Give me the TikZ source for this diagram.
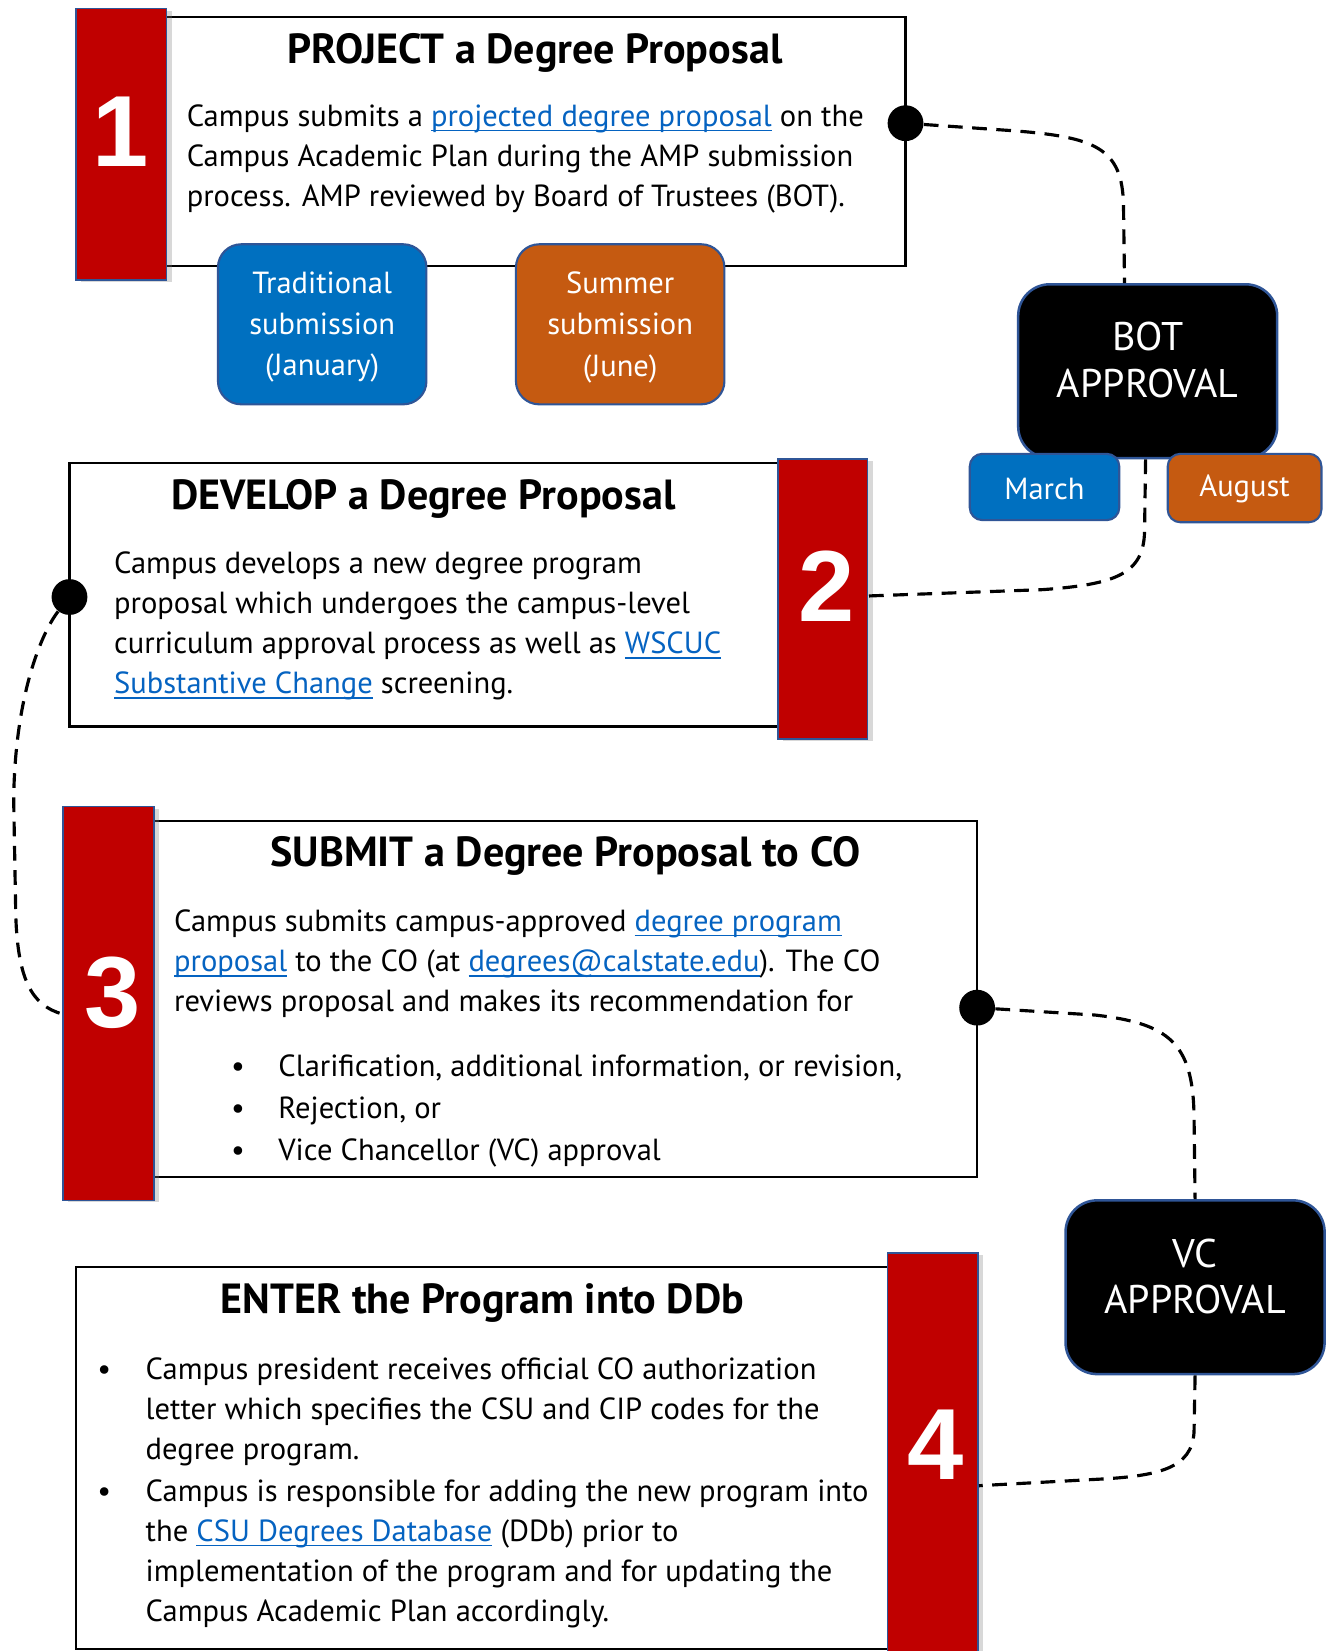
\documentclass[tikz,border=0pt]{standalone}
\usepackage{fontspec}
\setmainfont{PT Sans}
\newfontfamily\digitfont{Liberation Sans}
\usetikzlibrary{shadows}
\definecolor{redbox}{HTML}{C00000}
\definecolor{bluebox}{HTML}{0070C0}
\definecolor{orangebox}{HTML}{C55A11}
\definecolor{edgeblue}{HTML}{2F5597}
\definecolor{linkblue}{HTML}{0563C1}
\newsavebox\lnkbox
\newcommand{\lnk}[1]{\sbox\lnkbox{#1}{\color{linkblue}\rlap{\rule[-2.2pt]{\wd\lnkbox}{0.7pt}}#1}}
\tikzset{
  whitebox/.style={draw=black, line width=1pt, fill=white, inner sep=0},
  numbox/.style={draw=edgeblue, line width=0.8pt, fill=redbox, inner sep=0,
    drop shadow={opacity=0.3, shadow xshift=2.5pt, shadow yshift=-1pt}},
  datebox/.style={draw=edgeblue, line width=1pt, rounded corners=11pt, inner sep=0},
  datetext/.style={text=white, align=center, font=\fontsize{14.5}{19.5}\selectfont, inner sep=0},
  approvebox/.style={draw=edgeblue, line width=1.2pt, fill=black, rounded corners=15pt, inner sep=0},
  approvetext/.style={text=white, align=center, font=\fontsize{19}{22}\selectfont, inner sep=0},
  numtext/.style={text=white, font=\digitfont\bfseries\fontsize{48}{48}\selectfont, inner sep=0},
  ttl/.style={font=\bfseries\fontsize{20}{22}\selectfont, inner sep=0},
  bodytext/.style={font=\fontsize{14.5}{19}\selectfont, align=left, inner sep=0, anchor=base west},
  bigdot/.style={circle, fill=black, minimum size=17pt, inner sep=0},
  conn/.style={line width=1.5pt, dash pattern=on 7pt off 4.5pt},
}
\begin{document}
\begin{tikzpicture}[x=0.5pt,y=-0.5pt]
\path[use as bounding box, clip] (0,0) rectangle (1260,1568);
\fill[white] (0,0) rectangle (1260,1568);

% ---------- Box 1
\node[whitebox, minimum width=370pt, minimum height=118.5pt] (b1) at (490,134.5) {};
\node[numbox, minimum width=43pt, minimum height=129pt] (r1) at (115,137) {};
\node[numtext] (n1) at (115,125) {1};
\node[ttl] (t1) at (508,50) {PROJECT a Degree Proposal};
\node[bodytext] (p1) at (177,196) {Campus submits a \lnk{projected degree proposal} on the\\Campus Academic Plan during the AMP submission\\process. AMP reviewed by Board of Trustees (BOT).};
\node[datebox, fill=bluebox, minimum width=99pt, minimum height=76pt] (trad) at (306,308) {};
\node[datetext] (tradt) at (306,311) {Traditional\\submission\\(January)};
\node[datebox, fill=orangebox, minimum width=99pt, minimum height=76pt] (summ) at (589,308) {};
\node[datetext] (summt) at (589,311) {Summer\\submission\\(June)};

% ---------- BOT
\node[approvebox, minimum width=123pt, minimum height=82.5pt] (bot) at (1090,352.5) {};
\node[approvetext] (bott) at (1090,342) {BOT\\APPROVAL};
\node[datebox, fill=bluebox, rounded corners=6pt, minimum width=71pt, minimum height=31.5pt] (mar) at (992,462.5) {};
\node[datetext] (mart) at (992,464) {March};
\node[datebox, fill=orangebox, rounded corners=6pt, minimum width=73pt, minimum height=32.5pt] (aug) at (1182,463.5) {};
\node[datetext] (augt) at (1182,464) {August};

% ---------- Box 2
\node[whitebox, minimum width=339.5pt, minimum height=125pt] (b2) at (405.5,565) {};
\node[numbox, minimum width=42.5pt, minimum height=133pt] (r2) at (781.5,569) {};
\node[numtext] (n2) at (785,557) {2};
\node[ttl] (t2) at (402,474) {DEVELOP a Degree Proposal};
\node[bodytext] (p2) at (108,659) {Campus develops a new degree program\\proposal which undergoes the campus-level\\curriculum approval process as well as \lnk{WSCUC}\\\lnk{Substantive Change} screening.};

% ---------- Box 3
\node[whitebox, minimum width=394pt, minimum height=169pt] (b3) at (534,949) {};
\node[numbox, minimum width=43pt, minimum height=187pt] (r3) at (103,953) {};
\node[numtext] (n3) at (107,943) {3};
\node[ttl] (t3) at (537,813) {SUBMIT a Degree Proposal to CO};
\node[bodytext] (p3) at (165,961) {Campus submits campus-approved \lnk{degree program}\\\lnk{proposal} to the CO (at \lnk{degrees@calstate.edu}). The CO\\reviews proposal and makes its recommendation for};
\node[bodytext] (bl3) at (219,1102) {\textbullet\\[1pt]\textbullet\\[1pt]\textbullet};
\node[bodytext] (q3) at (264,1102) {Clarification, additional information, or revision,\\[1pt]Rejection, or\\[1pt]Vice Chancellor (VC) approval};

% ---------- VC
\node[approvebox, minimum width=123pt, minimum height=82.5pt] (vc) at (1135,1222.5) {};
\node[approvetext] (vct) at (1135,1212) {VC\\APPROVAL};

% ---------- Box 4
\node[whitebox, minimum width=389pt, minimum height=181.5pt] (b4) at (461,1384.5) {};
\node[numbox, minimum width=43pt, minimum height=195pt] (r4) at (886,1385) {};
\node[numtext] (n4) at (889,1372) {4};
\node[ttl] (t4) at (458,1237) {ENTER the Program into DDb};
\node[bodytext] (bl4a) at (92,1310) {\textbullet};
\node[bodytext] (bl4b) at (92,1426) {\textbullet};
\node[bodytext] (p4) at (138,1540) {Campus president receives official CO authorization\\letter which specifies the CSU and CIP codes for the\\degree program.\\[1pt]Campus is responsible for adding the new program into\\the \lnk{CSU Degrees Database} (DDb) prior to\\implementation of the program and for updating the\\Campus Academic Plan accordingly.};

% ---------- dots
\node[bigdot] (d1) at (860,117) {};
\node[bigdot] (d2) at (66,567) {};
\node[bigdot] (d3) at (928,957) {};

% ---------- connectors
\draw[conn] (d1) -- (960,124) .. controls (1040,130) and (1066,140) .. (1067,195) -- ([xshift=-11pt]bot.north);
\draw[conn] ([xshift=-1pt]bot.south) -- (1087,505) .. controls (1086,545) and (1060,555) .. (990,560) -- ([yshift=1.5pt]r2.east);
\draw[conn] (d2) .. controls (40,600) and (14,660) .. (13,760) -- (15,870) .. controls (17,930) and (30,955) .. ([yshift=-5pt]r3.west);
\draw[conn] (d3) -- (1040,964) .. controls (1110,972) and (1133,990) .. (1134,1060) -- (vc.north);
\draw[conn] (vc.south) -- (1134,1360) .. controls (1132,1395) and (1100,1402) .. (1040,1405) -- ([yshift=-13pt]r4.east);
\end{tikzpicture}
\end{document}
